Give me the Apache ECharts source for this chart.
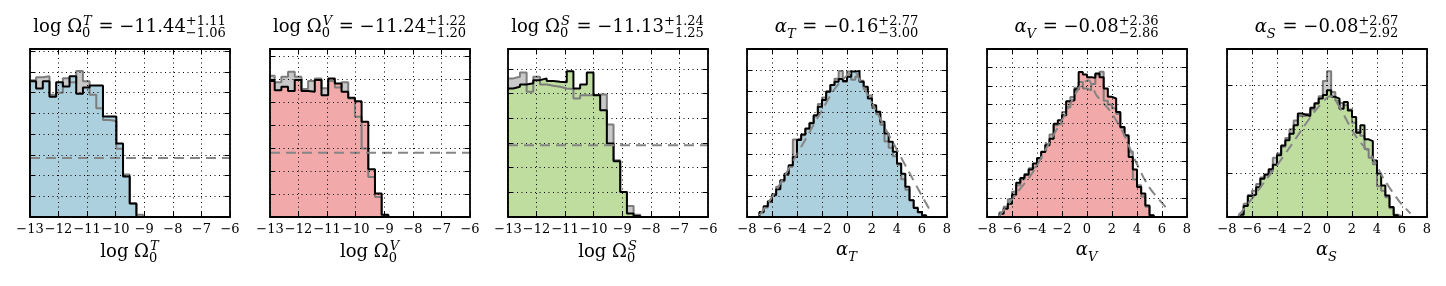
<!DOCTYPE html>
<html>
<head>
<meta charset="utf-8">
<script src="https://cdn.jsdelivr.net/npm/echarts@6/dist/echarts.min.js"></script>
<style>
html, body { margin: 0; padding: 0; background: #fff; }
#chart { width: 1446px; height: 286px; }
</style>
</head>
<body>
<div id="chart"></div>
<script>
// tick labels
const omegaTicks = [-13, -12, -11, -10, -9, -8, -7, -6];
const alphaTicks = [-8, -6, -4, -2, 0, 2, 4, 6, 8];

// subscripts / summary numbers in the titles
const labelNames = ["T", "V", "S"];
const omegaMedian = [-11.44, -11.24, -11.13];
const omegaUpper = [1.11, 1.22, 1.24];
const omegaLower = [1.06, 1.20, 1.25];
const alphaMedian = [-0.16, -0.08, -0.08];
const alphaUpper = [2.77, 2.36, 2.67];
const alphaLower = [3.00, 2.86, 2.92];

// log Omega histograms (bin start, bin width, heights)
const omegaTStart = -13.02, omegaVStart = -13.07, omegaSStart = -13.05;
const omegaBin = 0.234;
const omegaTPost = [6.55, 6.2, 6.55, 5.8, 6.5, 6.3, 6.8, 5.95, 6.25, 6.35, 6.35, 4.85, 4.85, 3.55, 1.95, 0.65];
const omegaTPrior = [6.6, 6.75, 6.8, 5.9, 6.0, 6.7, 6.5, 7.05, 6.55, 5.9, 5.25, 4.68, 4.63, 3.3, 2.05, 0.65, 0.11];
const omegaVPost = [5.92, 5.52, 5.67, 5.48, 5.96, 5.48, 5.45, 5.96, 5.3, 6.03, 5.81, 5.45, 5.19, 5.04, 4.14, 2.08, 1.02, 0.1];
const omegaVPrior = [6.15, 5.86, 6.1, 6.32, 6.1, 5.57, 5.92, 6.03, 5.6, 5.92, 5.63, 5.86, 5.16, 4.36, 2.98, 1.74, 0.87, 0.07];
const omegaSPost = [5.2, 5.27, 5.36, 5.41, 5.54, 5.61, 5.5, 5.47, 5.45, 5.9, 5.2, 5.36, 5.85, 4.93, 4.32, 2.97, 2.26, 1.01, 0.14, 0.04];
const omegaSPrior = [5.61, 5.68, 5.85, 5.07, 5.68, 5.36, 5.31, 5.27, 5.2, 5.18, 4.8, 4.93, 4.93, 4.96, 4.96, 3.74, 2.3, 1.01, 0.45, 0.09];
const omegaDashLevel = [2.85, 2.8, 2.9];

// alpha histograms
const alphaStart = -7.0;
const alphaBin = 1 / 3;
const alphaTPost = [0.24, 0.51, 0.75, 1.04, 1.32, 1.75, 2.07, 2.47, 2.87, 3.67, 3.94, 4.23, 4.47, 4.86, 5.26, 5.58, 5.98, 6.30, 6.46, 6.59, 6.49, 6.70, 6.94, 6.97, 6.46, 6.22, 5.66, 5.34, 5.02, 4.55, 3.99, 3.59, 3.11, 2.55, 2.07, 1.44, 0.80, 0.43, 0.24, 0.08];
const alphaTPrior = [0.2, 0.45, 0.7, 1.1, 1.45, 1.7, 2.0, 2.4, 3.7, 3.75, 3.9, 4.2, 4.5, 4.8, 5.4, 5.7, 6.0, 6.3, 6.6, 6.97, 6.45, 6.95, 6.55, 6.7, 6.5, 6.1, 5.8, 5.2, 4.9, 4.4, 3.6, 3.3, 2.9, 2.5, 1.8, 1.3, 0.8, 0.45, 0.2, 0.05];
const alphaVPost = [0.18, 0.44, 0.71, 1.19, 1.83, 2.08, 2.26, 2.54, 2.85, 3.15, 3.47, 3.83, 4.18, 4.98, 5.16, 5.43, 6.17, 6.23, 6.81, 7.74, 7.6, 7.46, 7.42, 7.65, 7.45, 6.85, 6.41, 6.32, 5.6, 4.8, 4.36, 3.2, 2.54, 1.6, 1.25, 0.62, 0.09];
const alphaVPrior = [0.25, 0.55, 0.95, 1.35, 1.7, 2.0, 2.3, 2.6, 2.7, 3.1, 3.5, 3.9, 4.4, 4.9, 5.0, 5.6, 5.85, 6.4, 6.9, 7.2, 6.85, 6.75, 7.1, 7.6, 7.75, 6.2, 6.0, 5.8, 5.5, 4.75, 4.3, 3.5, 2.0, 1.7, 1.1, 0.55, 0.1];
const alphaSPost = [0.05, 0.25, 0.48, 0.51, 0.68, 0.87, 0.97, 1.09, 1.19, 1.41, 1.63, 1.75, 1.9, 2.09, 2.36, 2.33, 2.3, 2.49, 2.59, 2.7, 2.78, 2.89, 2.74, 2.7, 2.47, 2.62, 2.43, 2.28, 1.92, 2.09, 1.77, 1.73, 1.29, 0.99, 0.72, 0.49, 0.23, 0.04];
const alphaSPrior = [0.08, 0.3, 0.5, 0.6, 0.75, 0.9, 0.95, 1.05, 1.35, 1.45, 1.6, 1.8, 2.0, 2.2, 2.3, 2.3, 2.35, 2.45, 2.6, 2.75, 3.1, 3.32, 2.85, 2.65, 2.6, 2.55, 2.45, 2.15, 1.95, 1.85, 1.55, 1.35, 1.2, 0.7, 0.6, 0.45, 0.2, 0.05, 0.02];

// dashed prior curves for alpha
const alphaTDashX = [-7.0, -6, -5, -4, -3, -2, -1, 0, 0.6, 1.0, 2, 3, 4, 5, 6, 6.75];
const alphaTDashY = [0.08, 0.95, 1.95, 3.0, 4.05, 5.1, 6.1, 6.75, 6.95, 6.55, 5.45, 4.3, 3.2, 2.1, 1.0, 0.2];
const alphaVDashX = [-7.04, -5.65, -4.32, -2.99, -1.65, -0.59, 0.1, 0.75, 1.81, 2.83, 3.89, 4.96, 6.29, 6.61];
const alphaVDashY = [0.05, 1.25, 2.4, 4.0, 5.6, 6.94, 7.3, 6.5, 5.69, 4.57, 2.97, 1.6, 0.53, 0.27];
const alphaSDashX = [-7.1, -6, -5, -4, -3, -2, -1, 0, 0.3, 0.8, 1.28, 2.35, 3.57, 4.5, 5.75, 6.68];
const alphaSDashY = [0.02, 0.42, 0.8, 1.18, 1.58, 2.0, 2.4, 2.72, 2.75, 2.6, 2.36, 1.82, 1.39, 0.89, 0.37, 0.08];

const fills = ["#acd0de", "#f1a9a9", "#bfdd9f"];
const gridLeft = [30, 270, 508, 747, 987, 1227];
const gridTop = 49, gridW = 200, gridH = 168;
const yMax = [8.11, 7.31, 6.8, 8.02, 8.96, 3.83];

const panels = [
  { ticks: omegaTicks, start: omegaTStart, bin: omegaBin, post: omegaTPost, prior: omegaTPrior, dash: [[-13, omegaDashLevel[0]], [-6, omegaDashLevel[0]]] },
  { ticks: omegaTicks, start: omegaVStart, bin: omegaBin, post: omegaVPost, prior: omegaVPrior, dash: [[-13, omegaDashLevel[1]], [-6, omegaDashLevel[1]]] },
  { ticks: omegaTicks, start: omegaSStart, bin: omegaBin, post: omegaSPost, prior: omegaSPrior, dash: [[-13, omegaDashLevel[2]], [-6, omegaDashLevel[2]]] },
  { ticks: alphaTicks, start: alphaStart, bin: alphaBin, post: alphaTPost, prior: alphaTPrior, dash: alphaTDashX.map((x, i) => [x, alphaTDashY[i]]) },
  { ticks: alphaTicks, start: alphaStart, bin: alphaBin, post: alphaVPost, prior: alphaVPrior, dash: alphaVDashX.map((x, i) => [x, alphaVDashY[i]]) },
  { ticks: alphaTicks, start: alphaStart, bin: alphaBin, post: alphaSPost, prior: alphaSPrior, dash: alphaSDashX.map((x, i) => [x, alphaSDashY[i]]) }
];

function stepData(start, width, heights) {
  const pts = [[start, 0]];
  heights.forEach((h, i) => pts.push([start + i * width, h]));
  pts.push([start + heights.length * width, 0]);
  return pts;
}

const minus = v => (v < 0 ? "\u2212" + Math.abs(v) : String(v));
const fmt = v => (v < 0 ? "\u2212" : "") + Math.abs(v).toFixed(2);

// math-like text laid out from measured pieces
const FONT = '"DejaVu Serif"';
const ctx = document.createElement("canvas").getContext("2d");
const fontOf = (size, it) => (it ? "italic " : "") + size + "px " + FONT;
function measure(t, size, it) { ctx.font = fontOf(size, it); return ctx.measureText(t).width; }

function mathText(tokens, cx, baseline, size) {
  const small = Math.round(size * 0.7);
  const items = [];
  let x = 0;
  tokens.forEach(tk => {
    if (tk.t !== undefined) {
      items.push({ text: tk.t, x: x, dy: 0, size: size, it: tk.i });
      x += measure(tk.t, size, tk.i);
    } else {
      let w = 0;
      if (tk.sup) {
        items.push({ text: tk.sup, x: x + (tk.supShift || 0), dy: -size * 0.42, size: small, it: tk.supI });
        w = Math.max(w, measure(tk.sup, small, tk.supI) + (tk.supShift || 0));
      }
      if (tk.sub) {
        items.push({ text: tk.sub, x: x, dy: size * (tk.sup ? 0.28 : 0.3), size: small, it: tk.subI });
        w = Math.max(w, measure(tk.sub, small, tk.subI));
      }
      x += w + 1;
    }
  });
  const left = cx - x / 2;
  return items.map(it => ({
    type: "text", x: left + it.x, y: baseline + it.dy - it.size * 0.32, z: 20,
    style: { text: it.text, font: fontOf(it.size, it.it), fill: "#000", verticalAlign: "middle", align: "left" }
  }));
}

const grid = [], xAxis = [], yAxis = [], series = [];
let graphic = [];
const lineBlack = { color: "#000", width: 1.8 };
const tick = { show: true, inside: true, length: 5, lineStyle: { color: "#000", width: 1 } };
const dotted = { show: true, lineStyle: { color: "#000", width: 1, type: [1, 3.5] } };

panels.forEach((p, i) => {
  grid.push({ left: gridLeft[i], top: gridTop, width: gridW, height: gridH });
  const xmin = p.ticks[0], xmax = p.ticks[p.ticks.length - 1], xint = p.ticks[1] - p.ticks[0];
  xAxis.push({
    gridIndex: i, type: "value", min: xmin, max: xmax, interval: xint, position: "bottom", z: 10,
    axisLine: { show: true, onZero: false, lineStyle: lineBlack }, axisTick: tick,
    axisLabel: { show: true, margin: 6, color: "#000", fontFamily: "DejaVu Serif", fontSize: 13,
      hideOverlap: false, showMinLabel: true, showMaxLabel: true, formatter: minus },
    splitLine: dotted
  });
  xAxis.push({
    gridIndex: i, type: "value", min: xmin, max: xmax, interval: xint, position: "top", z: 10,
    axisLine: { show: true, onZero: false, lineStyle: lineBlack }, axisTick: tick,
    axisLabel: { show: false }, splitLine: { show: false }
  });
  yAxis.push({
    gridIndex: i, type: "value", min: 0, max: yMax[i], interval: 1, position: "left", z: 10,
    axisLine: { show: true, onZero: false, lineStyle: lineBlack }, axisTick: tick,
    axisLabel: { show: false }, splitLine: dotted
  });
  yAxis.push({
    gridIndex: i, type: "value", min: 0, max: yMax[i], interval: 1, position: "right", z: 10,
    axisLine: { show: true, onZero: false, lineStyle: lineBlack }, axisTick: tick,
    axisLabel: { show: false }, splitLine: { show: false }
  });
  const xi = i * 2, yi = i * 2;
  const priorPts = stepData(p.start, p.bin, p.prior);
  const postPts = stepData(p.start, p.bin, p.post);
  const base = { type: "line", xAxisIndex: xi, yAxisIndex: yi, step: "end", symbol: "none", silent: true, animation: false };
  series.push(Object.assign({}, base, { data: priorPts, z: 1, lineStyle: { opacity: 0 }, areaStyle: { color: "#c9c9c9", opacity: 1 } }));
  series.push(Object.assign({}, base, { data: postPts, z: 2, lineStyle: { opacity: 0 }, areaStyle: { color: fills[i % 3], opacity: 1 } }));
  series.push(Object.assign({}, base, { data: priorPts, z: 3, lineStyle: { color: "#7d7d7d", width: 2 } }));
  series.push(Object.assign({}, base, { data: postPts, z: 4, lineStyle: { color: "#000", width: 2 } }));
  series.push({ type: "line", xAxisIndex: xi, yAxisIndex: yi, data: p.dash, symbol: "none", silent: true, animation: false,
    smooth: i >= 3 ? 0.3 : false, z: 5, lineStyle: { color: "#858585", width: 2, type: [10, 6] } });

  const cx = gridLeft[i] + gridW / 2;
  const k = i % 3;
  if (i < 3) {
    graphic = graphic.concat(mathText([
      { t: "log \u03a9" }, { sup: labelNames[k], supI: true, supShift: 1, sub: "0" },
      { t: " = " + fmt(omegaMedian[k]) }, { sup: "+" + omegaUpper[k].toFixed(2), sub: "\u2212" + omegaLower[k].toFixed(2) }
    ], cx, 33, 18));
    graphic = graphic.concat(mathText([
      { t: "log \u03a9" }, { sup: labelNames[k], supI: true, supShift: 1, sub: "0" }
    ], cx, 258, 18));
  } else {
    graphic = graphic.concat(mathText([
      { t: "\u03b1", i: true }, { sub: labelNames[k], subI: true },
      { t: " = " + fmt(alphaMedian[k]) }, { sup: "+" + alphaUpper[k].toFixed(2), sub: "\u2212" + alphaLower[k].toFixed(2) }
    ], cx, 33, 18));
    graphic = graphic.concat(mathText([
      { t: "\u03b1", i: true }, { sub: labelNames[k], subI: true }
    ], cx, 256, 18));
  }
});

const chart = echarts.init(document.getElementById("chart"));
chart.setOption({
  backgroundColor: "#fff",
  animation: false,
  grid: grid,
  xAxis: xAxis,
  yAxis: yAxis,
  series: series,
  graphic: graphic
});
</script>
</body>
</html>
